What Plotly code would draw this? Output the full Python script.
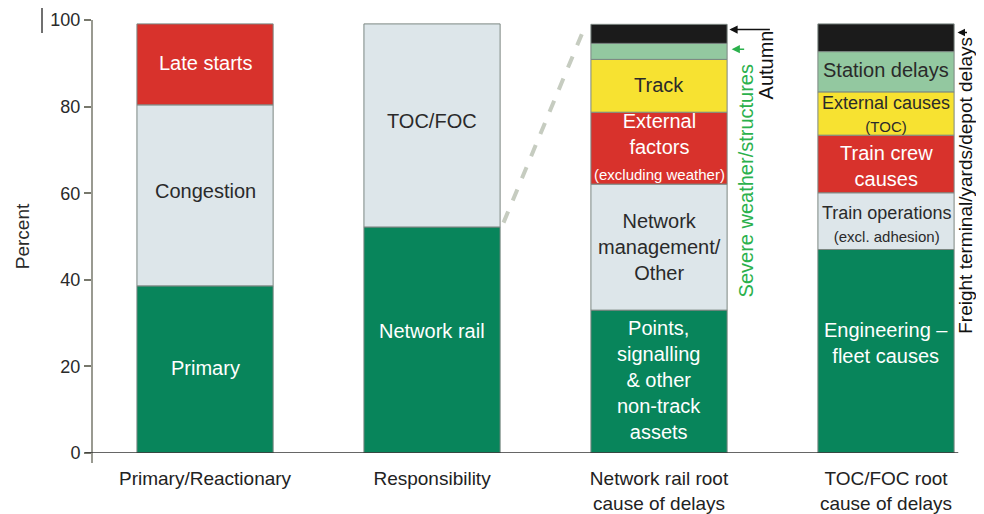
import plotly.graph_objects as go

# categories along the x axis
categories = [
    "Primary/Reactionary",
    "Responsibility",
    "Network rail root<br>cause of delays",
    "TOC/FOC root<br>cause of delays",
]

# stacked segments, bottom to top, percent
primary_names = ["Primary", "Congestion", "Late starts"]
primary_values = [38.6, 41.8, 18.7]

resp_names = ["Network rail", "TOC/FOC"]
resp_values = [52.2, 46.9]

nr_names = [
    "Points, signalling & other non-track assets",
    "Network management/Other",
    "External factors (excluding weather)",
    "Track",
    "Severe weather/structures",
    "Autumn",
]
nr_values = [33.0, 29.1, 16.6, 12.2, 3.7, 4.4]

toc_names = [
    "Engineering – fleet causes",
    "Train operations (excl. adhesion)",
    "Train crew causes",
    "External causes (TOC)",
    "Station delays",
    "Freight terminal/yards/depot delays",
]
toc_values = [47.0, 13.1, 13.3, 10.0, 9.3, 6.4]

# look
GREEN = "#08855b"
PALE = "#dde6ea"
RED = "#d8322c"
YELLOW = "#f7e231"
MINT = "#93c8a0"
BLACK = "#1b1b1b"
WHITE = "#ffffff"
DARK = "#2a2a2a"

SMALL = "<span style='font-size:15px'>{}</span>"

bars = [
    (primary_names, primary_values, [GREEN, PALE, RED],
     ["Primary", "Congestion", "Late starts"],
     [WHITE, DARK, WHITE], [20, 20, 20], [0.3, 1.0, 0.3]),
    (resp_names, resp_values, [GREEN, PALE],
     ["Network rail", "TOC/FOC"],
     [WHITE, DARK], [20, 20], [2.1, 1.1]),
    (nr_names, nr_values, [GREEN, PALE, RED, YELLOW, MINT, BLACK],
     ["Points,<br>signalling<br>& other<br>non-track<br>assets",
      "Network<br>management/<br>Other",
      "External<br>factors<br>" + SMALL.format("(excluding weather)"),
      "Track", None, None],
     [WHITE, DARK, WHITE, DARK, DARK, WHITE], [20, 20, 20, 20, 20, 20],
     [0.4, 0, 0.3, 0.3, 0, 0]),
    (toc_names, toc_values, [GREEN, PALE, RED, YELLOW, MINT, BLACK],
     ["Engineering –<br>fleet causes",
      "Train operations<br>" + SMALL.format("(excl. adhesion)"),
      "Train crew<br>causes",
      "External causes<br>" + SMALL.format("(TOC)"),
      "Station delays", None],
     [WHITE, DARK, WHITE, DARK, DARK, WHITE], [20, 18, 20, 18, 20, 20],
     [1.8, -0.6, -0.4, 0.0, 0.5, 0]),
]

BAR_W = 0.6
X_RANGE = [-0.498, 3.326]
FONT = "Liberation Sans, Arial, sans-serif"


def to_paper(x):
    return (x - X_RANGE[0]) / (X_RANGE[1] - X_RANGE[0])


fig = go.Figure()
annotations = []
for i, (names, values, colors, labels, tcolors, tsizes, nudges) in enumerate(bars):
    bottom = 0.0
    for name, val, col, lab, tc, ts, nd in zip(
        names, values, colors, labels, tcolors, tsizes, nudges
    ):
        fig.add_trace(
            go.Bar(
                x=[i], y=[val], base=[bottom], name=name, width=BAR_W,
                marker=dict(color=col, line=dict(color="#7c8782", width=1)),
                showlegend=False, hoverinfo="name+y",
            )
        )
        if lab:
            annotations.append(dict(
                x=i, y=bottom + val / 2 + nd, xref="x", yref="y", text=lab,
                showarrow=False, font=dict(size=ts, color=tc, family=FONT),
                align="center",
            ))
        bottom += val

# dashed zoom line from Network rail block to the breakdown bar
fig.add_trace(go.Scatter(
    x=[1 + BAR_W / 2 + 0.015, 2 - BAR_W / 2 - 0.03],
    y=[resp_values[0] + 1.0, sum(nr_values) - 1],
    mode="lines", line=dict(color="#c6ccc0", width=4, dash="dash"),
    showlegend=False, hoverinfo="skip",
))

# side notes for the thin top segments
nr_top = sum(nr_values)
toc_top = sum(toc_values)
right3 = 2 + BAR_W / 2
right4 = 3 + BAR_W / 2
annotations += [
    dict(x=right3 + 0.01, y=nr_top - nr_values[-1] / 2 + 1.0, xref="x", yref="y",
         text="", showarrow=True, ax=42, ay=0, arrowhead=2, arrowsize=1.1,
         arrowwidth=1.5, arrowcolor="#111"),
    dict(x=right3 + 0.17, y=nr_top - 0.9, xref="x", yref="y", text="Autumn",
         textangle=-90, showarrow=False, yanchor="top",
         font=dict(size=20, color="#111", family=FONT)),
    dict(x=right3 + 0.02, y=nr_top - nr_values[-1] - nr_values[-2] / 2 + 0.5,
         xref="x", yref="y", text="", showarrow=True, ax=14, ay=0,
         arrowhead=2, arrowsize=1.1, arrowwidth=1.5, arrowcolor="#2bb14c"),
    dict(x=right3 + 0.083, y=nr_top - 8.7, xref="x", yref="y",
         text="Severe weather/structures", textangle=-90, showarrow=False,
         yanchor="top", font=dict(size=20, color="#2bb14c", family=FONT)),
    dict(x=right4 + 0.015, y=toc_top - toc_values[-1] / 2 + 1.2, xref="x", yref="y",
         text="", showarrow=True, ax=11, ay=0, arrowhead=2, arrowsize=1.0,
         arrowwidth=1.5, arrowcolor="#111"),
    dict(x=to_paper(right4 + 0.053), y=toc_top - 2.6, xref="paper", yref="y",
         xanchor="center", text="Freight terminal/yards/depot delays",
         textangle=-90, showarrow=False, yanchor="top",
         font=dict(size=19, color="#111", family=FONT)),
]

# page body keeps an 8px margin; size the figure so it fits the window
fig.update_layout(
    width=976, height=506,
    margin=dict(l=84, r=24, t=12, b=61),
    barmode="overlay",
    plot_bgcolor="white", paper_bgcolor="white",
    font=dict(family=FONT, size=18, color="#2a2a2a"),
    annotations=annotations,
    xaxis=dict(
        range=X_RANGE, tickvals=list(range(len(categories))),
        ticktext=categories, showgrid=False, zeroline=False, showline=False,
        ticks="", tickfont=dict(size=19, color="#222"), ticklabelstandoff=12,
        automargin=False,
    ),
    yaxis=dict(
        range=[0, 100], tickvals=[0, 20, 40, 60, 80, 100], showgrid=False,
        zeroline=False, showline=False, ticks="outside", ticklen=7,
        tickcolor="#77786c", tickwidth=1.5, tickfont=dict(size=18, color="#2a2a2a"),
        title=dict(text="Percent", font=dict(size=19, color="#2a2a2a")),
        automargin=False,
    ),
    shapes=[
        dict(type="line", xref="paper", yref="paper", x0=0, x1=0, y0=1,
             y1=-0.023, line=dict(color="#77786c", width=1.5)),
        dict(type="line", xref="paper", yref="y", x0=-0.008, x1=0.998, y0=0,
             y1=0, line=dict(color="#333", width=1.5)),
        dict(type="line", xref="paper", yref="paper", x0=-0.0576, x1=-0.0576,
             y0=1.028, y1=0.97, line=dict(color="#111", width=1.2)),
    ],
)

fig.write_html("out.html")
